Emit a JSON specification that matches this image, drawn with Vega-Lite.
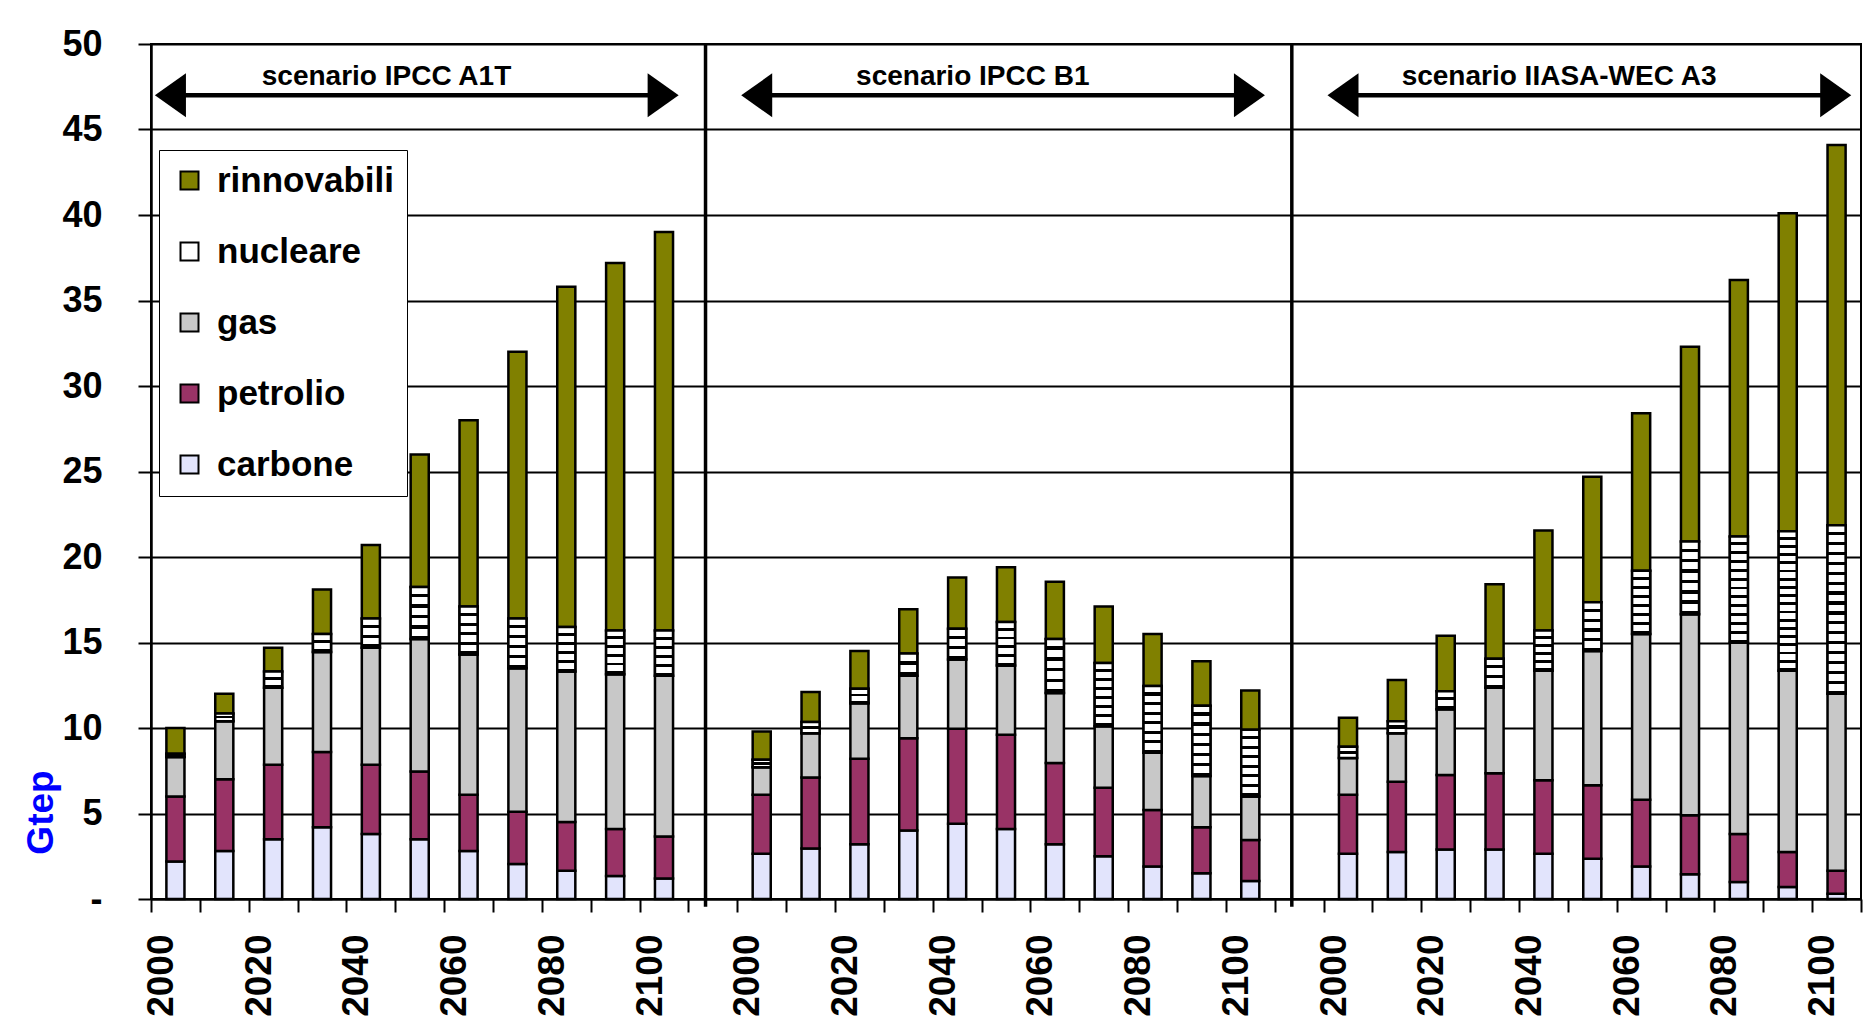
{
  "$schema": "https://vega.github.io/schema/vega-lite/v6.json",
  "width": 1710,
  "height": 855,
  "autosize": {"type": "none"},
  "padding": {"left": 151, "top": 44, "right": 2, "bottom": 130},
  "background": "#ffffff",
  "config": {
    "font": "Liberation Sans",
    "view": {"stroke": "#000000", "strokeWidth": 2},
    "axis": {"labelFont": "Liberation Sans", "titleFont": "Liberation Sans"},
    "legend": {"labelFont": "Liberation Sans"}
  },
  "layer": [
    {
      "data": {
        "values": [
          {"bar": "A1T 2000", "carbone": 2.2, "petrolio": 3.8, "gas": 2.3, "nucleare": 0.2, "rinnovabili": 1.5},
          {"bar": "A1T 2010", "carbone": 2.8, "petrolio": 4.2, "gas": 3.4, "nucleare": 0.45, "rinnovabili": 1.15},
          {"bar": "A1T 2020", "carbone": 3.5, "petrolio": 4.35, "gas": 4.5, "nucleare": 0.95, "rinnovabili": 1.4},
          {"bar": "A1T 2030", "carbone": 4.2, "petrolio": 4.4, "gas": 5.85, "nucleare": 1.05, "rinnovabili": 2.6},
          {"bar": "A1T 2040", "carbone": 3.8, "petrolio": 4.05, "gas": 6.85, "nucleare": 1.7, "rinnovabili": 4.3},
          {"bar": "A1T 2050", "carbone": 3.5, "petrolio": 3.95, "gas": 7.75, "nucleare": 3.05, "rinnovabili": 7.75},
          {"bar": "A1T 2060", "carbone": 2.8, "petrolio": 3.3, "gas": 8.2, "nucleare": 2.8, "rinnovabili": 10.9},
          {"bar": "A1T 2070", "carbone": 2.05, "petrolio": 3.05, "gas": 8.4, "nucleare": 2.9, "rinnovabili": 15.6},
          {"bar": "A1T 2080", "carbone": 1.65, "petrolio": 2.85, "gas": 8.8, "nucleare": 2.6, "rinnovabili": 19.9},
          {"bar": "A1T 2090", "carbone": 1.35, "petrolio": 2.75, "gas": 9.05, "nucleare": 2.55, "rinnovabili": 21.5},
          {"bar": "A1T 2100", "carbone": 1.2, "petrolio": 2.45, "gas": 9.4, "nucleare": 2.65, "rinnovabili": 23.3},
          {"bar": "B1 2000", "carbone": 2.65, "petrolio": 3.45, "gas": 1.6, "nucleare": 0.45, "rinnovabili": 1.65},
          {"bar": "B1 2010", "carbone": 2.95, "petrolio": 4.15, "gas": 2.6, "nucleare": 0.65, "rinnovabili": 1.75},
          {"bar": "B1 2020", "carbone": 3.2, "petrolio": 5.0, "gas": 3.25, "nucleare": 0.85, "rinnovabili": 2.2},
          {"bar": "B1 2030", "carbone": 4.0, "petrolio": 5.4, "gas": 3.65, "nucleare": 1.3, "rinnovabili": 2.6},
          {"bar": "B1 2040", "carbone": 4.4, "petrolio": 5.55, "gas": 4.05, "nucleare": 1.8, "rinnovabili": 3.0},
          {"bar": "B1 2050", "carbone": 4.1, "petrolio": 5.5, "gas": 4.05, "nucleare": 2.55, "rinnovabili": 3.2},
          {"bar": "B1 2060", "carbone": 3.2, "petrolio": 4.75, "gas": 4.1, "nucleare": 3.15, "rinnovabili": 3.35},
          {"bar": "B1 2070", "carbone": 2.5, "petrolio": 4.0, "gas": 3.6, "nucleare": 3.7, "rinnovabili": 3.3},
          {"bar": "B1 2080", "carbone": 1.9, "petrolio": 3.3, "gas": 3.35, "nucleare": 3.9, "rinnovabili": 3.05},
          {"bar": "B1 2090", "carbone": 1.5, "petrolio": 2.7, "gas": 3.0, "nucleare": 4.1, "rinnovabili": 2.6},
          {"bar": "B1 2100", "carbone": 1.05, "petrolio": 2.4, "gas": 2.55, "nucleare": 3.9, "rinnovabili": 2.3},
          {"bar": "A3 2000", "carbone": 2.65, "petrolio": 3.45, "gas": 2.15, "nucleare": 0.65, "rinnovabili": 1.7},
          {"bar": "A3 2010", "carbone": 2.75, "petrolio": 4.1, "gas": 2.85, "nucleare": 0.7, "rinnovabili": 2.4},
          {"bar": "A3 2020", "carbone": 2.9, "petrolio": 4.35, "gas": 3.85, "nucleare": 1.05, "rinnovabili": 3.25},
          {"bar": "A3 2030", "carbone": 2.9, "petrolio": 4.45, "gas": 5.0, "nucleare": 1.7, "rinnovabili": 4.35},
          {"bar": "A3 2040", "carbone": 2.65, "petrolio": 4.3, "gas": 6.4, "nucleare": 2.35, "rinnovabili": 5.85},
          {"bar": "A3 2050", "carbone": 2.35, "petrolio": 4.3, "gas": 7.85, "nucleare": 2.85, "rinnovabili": 7.35},
          {"bar": "A3 2060", "carbone": 1.9, "petrolio": 3.9, "gas": 9.7, "nucleare": 3.7, "rinnovabili": 9.2},
          {"bar": "A3 2070", "carbone": 1.45, "petrolio": 3.45, "gas": 11.75, "nucleare": 4.25, "rinnovabili": 11.4},
          {"bar": "A3 2080", "carbone": 1.0, "petrolio": 2.8, "gas": 11.2, "nucleare": 6.2, "rinnovabili": 15.0},
          {"bar": "A3 2090", "carbone": 0.7, "petrolio": 2.05, "gas": 10.6, "nucleare": 8.15, "rinnovabili": 18.6},
          {"bar": "A3 2100", "carbone": 0.3, "petrolio": 1.35, "gas": 10.35, "nucleare": 9.85, "rinnovabili": 22.25}
        ]
      },
      "transform": [
        {"fold": ["carbone", "petrolio", "gas", "nucleare", "rinnovabili"], "as": ["type", "v"]},
        {"stack": "v", "groupby": ["bar"], "as": ["y0", "y1"]}
      ],
      "layer": [
        {
          "mark": {"type": "bar", "width": {"band": 0.37}, "stroke": "#000000", "strokeWidth": 2.5},
          "encoding": {
            "x": {
              "field": "bar", "type": "nominal",
              "scale": {"type": "band", "paddingInner": 0, "paddingOuter": 0,
                "domain": ["A1T 2000","A1T 2010","A1T 2020","A1T 2030","A1T 2040","A1T 2050","A1T 2060","A1T 2070","A1T 2080","A1T 2090","A1T 2100","gap1","B1 2000","B1 2010","B1 2020","B1 2030","B1 2040","B1 2050","B1 2060","B1 2070","B1 2080","B1 2090","B1 2100","gap2","A3 2000","A3 2010","A3 2020","A3 2030","A3 2040","A3 2050","A3 2060","A3 2070","A3 2080","A3 2090","A3 2100"]},
              "axis": {
                "title": null,
                "labelExpr": "test(regexp('(00|20|40|60|80)$'), datum.value) ? slice(datum.value, -4) : ''",
                "labelAngle": 270, "labelAlign": "right", "labelBaseline": "middle",
                "labelFontSize": 37, "labelFontWeight": "bold", "labelColor": "#000000",
                "labelPadding": 22, "labelOffset": -14, "labelOverlap": false,
                "tickBand": "extent", "tickSize": 13, "tickColor": "#000000", "tickWidth": 2,
                "domainColor": "#000000", "domainWidth": 2, "grid": false
              }
            },
            "y": {
              "field": "y0", "type": "quantitative",
              "scale": {"domain": [0, 50], "nice": false},
              "axis": {
                "title": "Gtep", "values": [0, 5, 10, 15, 20, 25, 30, 35, 40, 45, 50],
                "labelExpr": "datum.value == 0 ? '-' : datum.label",
                "labelFontSize": 36, "labelFontWeight": "bold", "labelColor": "#000000",
                "labelPadding": 36, "labelFlush": false, "labelOverlap": false,
                "grid": true, "gridColor": "#000000", "gridWidth": 2,
                "domainColor": "#000000", "domainWidth": 2.5,
                "tickColor": "#000000", "tickWidth": 2, "tickSize": 13,
                "titleColor": "#0000ff", "titleFontSize": 37, "titleFontWeight": "bold",
                "titleAngle": 270, "titleX": -110, "titleY": 768, "titleAlign": "center", "titleBaseline": "middle"
              }
            },
            "y2": {"field": "y1"},
            "color": {
              "field": "type", "type": "nominal",
              "scale": {"domain": ["rinnovabili", "nucleare", "gas", "petrolio", "carbone"],
                        "range": ["#808000", "#ffffff", "#c8c8c8", "#993366", "#e2e4fc"]},
              "legend": {
                "orient": "none", "legendX": 8, "legendY": 106, "title": null,
                "symbolType": "square", "symbolSize": 324, "symbolStrokeColor": "#000000", "symbolStrokeWidth": 2,
                "symbolOpacity": 1,
                "labelFontSize": 35, "labelFontWeight": "bold", "labelColor": "#000000", "labelOffset": 10,
                "labelLimit": 400, "rowPadding": 35, "padding": 13,
                "strokeColor": "#000000", "fillColor": "#ffffff"
              }
            }
          }
        },
        {
          "transform": [{"filter": "datum.type == 'nucleare' && datum.v < 0.8"}],
          "mark": {"type": "bar", "width": {"band": 0.37}, "stroke": "#000000", "strokeWidth": 2.5,
            "fill": {"gradient": "linear", "x1": 0, "y1": 0, "x2": 0, "y2": 1, "stops": [
              {"offset": 0, "color": "#ffffff"}, {"offset": 0.36, "color": "#ffffff"}, {"offset": 0.36, "color": "#000000"}, {"offset": 0.64, "color": "#000000"}, {"offset": 0.64, "color": "#ffffff"}, {"offset": 1, "color": "#ffffff"}]}},
          "encoding": {"x": {"field": "bar", "type": "nominal"}, "y": {"field": "y0", "type": "quantitative"}, "y2": {"field": "y1"}}
        },
        {
          "transform": [{"filter": "datum.type == 'nucleare' && datum.v >= 0.8 && datum.v < 1.5"}],
          "mark": {"type": "bar", "width": {"band": 0.37}, "stroke": "#000000", "strokeWidth": 2.5,
            "fill": {"gradient": "linear", "x1": 0, "y1": 0, "x2": 0, "y2": 1, "stops": [
              {"offset": 0, "color": "#ffffff"}, {"offset": 0.335, "color": "#ffffff"}, {"offset": 0.335, "color": "#000000"}, {"offset": 0.5, "color": "#000000"},
              {"offset": 0.5, "color": "#ffffff"}, {"offset": 0.835, "color": "#ffffff"}, {"offset": 0.835, "color": "#000000"}, {"offset": 1, "color": "#000000"}]}},
          "encoding": {"x": {"field": "bar", "type": "nominal"}, "y": {"field": "y0", "type": "quantitative"}, "y2": {"field": "y1"}}
        },
        {
          "transform": [{"filter": "datum.type == 'nucleare' && datum.v >= 1.5 && datum.v < 2.2"}],
          "mark": {"type": "bar", "width": {"band": 0.37}, "stroke": "#000000", "strokeWidth": 2.5,
            "fill": {"gradient": "linear", "x1": 0, "y1": 0, "x2": 0, "y2": 1, "stops": [
              {"offset": 0, "color": "#ffffff"}, {"offset": 0.223, "color": "#ffffff"}, {"offset": 0.223, "color": "#000000"}, {"offset": 0.333, "color": "#000000"},
              {"offset": 0.333, "color": "#ffffff"}, {"offset": 0.557, "color": "#ffffff"}, {"offset": 0.557, "color": "#000000"}, {"offset": 0.667, "color": "#000000"},
              {"offset": 0.667, "color": "#ffffff"}, {"offset": 0.89, "color": "#ffffff"}, {"offset": 0.89, "color": "#000000"}, {"offset": 1, "color": "#000000"}]}},
          "encoding": {"x": {"field": "bar", "type": "nominal"}, "y": {"field": "y0", "type": "quantitative"}, "y2": {"field": "y1"}}
        },
        {
          "transform": [{"filter": "datum.type == 'nucleare' && datum.v >= 2.2 && datum.v < 3.3"}],
          "mark": {"type": "bar", "width": {"band": 0.37}, "stroke": "#000000", "strokeWidth": 2.5,
            "fill": {"gradient": "linear", "x1": 0, "y1": 0, "x2": 0, "y2": 1, "stops": [
              {"offset": 0, "color": "#ffffff"}, {"offset": 0.134, "color": "#ffffff"}, {"offset": 0.134, "color": "#000000"}, {"offset": 0.2, "color": "#000000"},
              {"offset": 0.2, "color": "#ffffff"}, {"offset": 0.334, "color": "#ffffff"}, {"offset": 0.334, "color": "#000000"}, {"offset": 0.4, "color": "#000000"},
              {"offset": 0.4, "color": "#ffffff"}, {"offset": 0.534, "color": "#ffffff"}, {"offset": 0.534, "color": "#000000"}, {"offset": 0.6, "color": "#000000"},
              {"offset": 0.6, "color": "#ffffff"}, {"offset": 0.734, "color": "#ffffff"}, {"offset": 0.734, "color": "#000000"}, {"offset": 0.8, "color": "#000000"},
              {"offset": 0.8, "color": "#ffffff"}, {"offset": 0.934, "color": "#ffffff"}, {"offset": 0.934, "color": "#000000"}, {"offset": 1, "color": "#000000"}]}},
          "encoding": {"x": {"field": "bar", "type": "nominal"}, "y": {"field": "y0", "type": "quantitative"}, "y2": {"field": "y1"}}
        },
        {
          "transform": [{"filter": "datum.type == 'nucleare' && datum.v >= 3.3 && datum.v < 4.5"}],
          "mark": {"type": "bar", "width": {"band": 0.37}, "stroke": "#000000", "strokeWidth": 2.5,
            "fill": {"gradient": "linear", "x1": 0, "y1": 0, "x2": 0, "y2": 1, "stops": [
              {"offset": 0, "color": "#ffffff"}, {"offset": 0.0957, "color": "#ffffff"}, {"offset": 0.0957, "color": "#000000"}, {"offset": 0.1429, "color": "#000000"},
              {"offset": 0.1429, "color": "#ffffff"}, {"offset": 0.2386, "color": "#ffffff"}, {"offset": 0.2386, "color": "#000000"}, {"offset": 0.2857, "color": "#000000"},
              {"offset": 0.2857, "color": "#ffffff"}, {"offset": 0.3814, "color": "#ffffff"}, {"offset": 0.3814, "color": "#000000"}, {"offset": 0.4286, "color": "#000000"},
              {"offset": 0.4286, "color": "#ffffff"}, {"offset": 0.5243, "color": "#ffffff"}, {"offset": 0.5243, "color": "#000000"}, {"offset": 0.5714, "color": "#000000"},
              {"offset": 0.5714, "color": "#ffffff"}, {"offset": 0.6671, "color": "#ffffff"}, {"offset": 0.6671, "color": "#000000"}, {"offset": 0.7143, "color": "#000000"},
              {"offset": 0.7143, "color": "#ffffff"}, {"offset": 0.81, "color": "#ffffff"}, {"offset": 0.81, "color": "#000000"}, {"offset": 0.8571, "color": "#000000"},
              {"offset": 0.8571, "color": "#ffffff"}, {"offset": 0.9529, "color": "#ffffff"}, {"offset": 0.9529, "color": "#000000"}, {"offset": 1, "color": "#000000"}]}},
          "encoding": {"x": {"field": "bar", "type": "nominal"}, "y": {"field": "y0", "type": "quantitative"}, "y2": {"field": "y1"}}
        },
        {
          "transform": [{"filter": "datum.type == 'nucleare' && datum.v >= 4.5 && datum.v < 7"}],
          "mark": {"type": "bar", "width": {"band": 0.37}, "stroke": "#000000", "strokeWidth": 2.5,
            "fill": {"gradient": "linear", "x1": 0, "y1": 0, "x2": 0, "y2": 1, "stops": [
              {"offset": 0, "color": "#ffffff"}, {"offset": 0.0558, "color": "#ffffff"}, {"offset": 0.0558, "color": "#000000"}, {"offset": 0.0833, "color": "#000000"},
              {"offset": 0.0833, "color": "#ffffff"}, {"offset": 0.1392, "color": "#ffffff"}, {"offset": 0.1392, "color": "#000000"}, {"offset": 0.1667, "color": "#000000"},
              {"offset": 0.1667, "color": "#ffffff"}, {"offset": 0.2225, "color": "#ffffff"}, {"offset": 0.2225, "color": "#000000"}, {"offset": 0.25, "color": "#000000"},
              {"offset": 0.25, "color": "#ffffff"}, {"offset": 0.3058, "color": "#ffffff"}, {"offset": 0.3058, "color": "#000000"}, {"offset": 0.3333, "color": "#000000"},
              {"offset": 0.3333, "color": "#ffffff"}, {"offset": 0.3892, "color": "#ffffff"}, {"offset": 0.3892, "color": "#000000"}, {"offset": 0.4167, "color": "#000000"},
              {"offset": 0.4167, "color": "#ffffff"}, {"offset": 0.4725, "color": "#ffffff"}, {"offset": 0.4725, "color": "#000000"}, {"offset": 0.5, "color": "#000000"},
              {"offset": 0.5, "color": "#ffffff"}, {"offset": 0.5558, "color": "#ffffff"}, {"offset": 0.5558, "color": "#000000"}, {"offset": 0.5833, "color": "#000000"},
              {"offset": 0.5833, "color": "#ffffff"}, {"offset": 0.6392, "color": "#ffffff"}, {"offset": 0.6392, "color": "#000000"}, {"offset": 0.6667, "color": "#000000"},
              {"offset": 0.6667, "color": "#ffffff"}, {"offset": 0.7225, "color": "#ffffff"}, {"offset": 0.7225, "color": "#000000"}, {"offset": 0.75, "color": "#000000"},
              {"offset": 0.75, "color": "#ffffff"}, {"offset": 0.8058, "color": "#ffffff"}, {"offset": 0.8058, "color": "#000000"}, {"offset": 0.8333, "color": "#000000"},
              {"offset": 0.8333, "color": "#ffffff"}, {"offset": 0.8892, "color": "#ffffff"}, {"offset": 0.8892, "color": "#000000"}, {"offset": 0.9167, "color": "#000000"},
              {"offset": 0.9167, "color": "#ffffff"}, {"offset": 0.9725, "color": "#ffffff"}, {"offset": 0.9725, "color": "#000000"}, {"offset": 1, "color": "#000000"}]}},
          "encoding": {"x": {"field": "bar", "type": "nominal"}, "y": {"field": "y0", "type": "quantitative"}, "y2": {"field": "y1"}}
        },
        {
          "transform": [{"filter": "datum.type == 'nucleare' && datum.v >= 7"}],
          "mark": {"type": "bar", "width": {"band": 0.37}, "stroke": "#000000", "strokeWidth": 2.5,
            "fill": {"gradient": "linear", "x1": 0, "y1": 0, "x2": 0, "y2": 1, "stops": [
              {"offset": 0, "color": "#ffffff"}, {"offset": 0.0394, "color": "#ffffff"}, {"offset": 0.0394, "color": "#000000"}, {"offset": 0.0588, "color": "#000000"},
              {"offset": 0.0588, "color": "#ffffff"}, {"offset": 0.0982, "color": "#ffffff"}, {"offset": 0.0982, "color": "#000000"}, {"offset": 0.1176, "color": "#000000"},
              {"offset": 0.1176, "color": "#ffffff"}, {"offset": 0.157, "color": "#ffffff"}, {"offset": 0.157, "color": "#000000"}, {"offset": 0.1765, "color": "#000000"},
              {"offset": 0.1765, "color": "#ffffff"}, {"offset": 0.2159, "color": "#ffffff"}, {"offset": 0.2159, "color": "#000000"}, {"offset": 0.2353, "color": "#000000"},
              {"offset": 0.2353, "color": "#ffffff"}, {"offset": 0.2747, "color": "#ffffff"}, {"offset": 0.2747, "color": "#000000"}, {"offset": 0.2941, "color": "#000000"},
              {"offset": 0.2941, "color": "#ffffff"}, {"offset": 0.3335, "color": "#ffffff"}, {"offset": 0.3335, "color": "#000000"}, {"offset": 0.3529, "color": "#000000"},
              {"offset": 0.3529, "color": "#ffffff"}, {"offset": 0.3923, "color": "#ffffff"}, {"offset": 0.3923, "color": "#000000"}, {"offset": 0.4118, "color": "#000000"},
              {"offset": 0.4118, "color": "#ffffff"}, {"offset": 0.4512, "color": "#ffffff"}, {"offset": 0.4512, "color": "#000000"}, {"offset": 0.4706, "color": "#000000"},
              {"offset": 0.4706, "color": "#ffffff"}, {"offset": 0.51, "color": "#ffffff"}, {"offset": 0.51, "color": "#000000"}, {"offset": 0.5294, "color": "#000000"},
              {"offset": 0.5294, "color": "#ffffff"}, {"offset": 0.5688, "color": "#ffffff"}, {"offset": 0.5688, "color": "#000000"}, {"offset": 0.5882, "color": "#000000"},
              {"offset": 0.5882, "color": "#ffffff"}, {"offset": 0.6276, "color": "#ffffff"}, {"offset": 0.6276, "color": "#000000"}, {"offset": 0.6471, "color": "#000000"},
              {"offset": 0.6471, "color": "#ffffff"}, {"offset": 0.6865, "color": "#ffffff"}, {"offset": 0.6865, "color": "#000000"}, {"offset": 0.7059, "color": "#000000"},
              {"offset": 0.7059, "color": "#ffffff"}, {"offset": 0.7453, "color": "#ffffff"}, {"offset": 0.7453, "color": "#000000"}, {"offset": 0.7647, "color": "#000000"},
              {"offset": 0.7647, "color": "#ffffff"}, {"offset": 0.8041, "color": "#ffffff"}, {"offset": 0.8041, "color": "#000000"}, {"offset": 0.8235, "color": "#000000"},
              {"offset": 0.8235, "color": "#ffffff"}, {"offset": 0.8629, "color": "#ffffff"}, {"offset": 0.8629, "color": "#000000"}, {"offset": 0.8824, "color": "#000000"},
              {"offset": 0.8824, "color": "#ffffff"}, {"offset": 0.9218, "color": "#ffffff"}, {"offset": 0.9218, "color": "#000000"}, {"offset": 0.9412, "color": "#000000"},
              {"offset": 0.9412, "color": "#ffffff"}, {"offset": 0.9806, "color": "#ffffff"}, {"offset": 0.9806, "color": "#000000"}, {"offset": 1, "color": "#000000"}]}},
          "encoding": {"x": {"field": "bar", "type": "nominal"}, "y": {"field": "y0", "type": "quantitative"}, "y2": {"field": "y1"}}
        }
      ]
    },
    {
      "data": {"values": [{"at": "gap1"}, {"at": "gap2"}]},
      "mark": {"type": "rule", "color": "#000000", "strokeWidth": 3.5},
      "encoding": {
        "x": {"field": "at", "type": "nominal", "bandPosition": 0.35},
        "y": {"datum": -0.45, "type": "quantitative"},
        "y2": {"datum": 50}
      }
    },
    {
      "data": {"values": [
        {"from": "A1T 2000", "to": "A1T 2100", "mid": "A1T 2040", "label": "scenario IPCC A1T"},
        {"from": "B1 2000", "to": "B1 2100", "mid": "B1 2040", "label": "scenario IPCC B1"},
        {"from": "A3 2000", "to": "A3 2100", "mid": "A3 2040", "label": "scenario IIASA-WEC A3"}
      ]},
      "layer": [
        {
          "mark": {"type": "rule", "color": "#000000", "strokeWidth": 4.5},
          "encoding": {
            "x": {"field": "from", "type": "nominal", "bandPosition": 0.18},
            "x2": {"field": "to", "bandPosition": 0.7},
            "y": {"datum": 47.0, "type": "quantitative"}
          }
        },
        {
          "mark": {"type": "point", "shape": "M0,0L1.41,-1L1.41,1Z", "size": 1936, "filled": true, "color": "#000000", "opacity": 1, "strokeWidth": 0},
          "encoding": {
            "x": {"field": "from", "type": "nominal", "bandPosition": 0.08},
            "y": {"datum": 47.0, "type": "quantitative"}
          }
        },
        {
          "mark": {"type": "point", "shape": "M0,0L-1.41,-1L-1.41,1Z", "size": 1936, "filled": true, "color": "#000000", "opacity": 1, "strokeWidth": 0},
          "encoding": {
            "x": {"field": "to", "type": "nominal", "bandPosition": 0.8},
            "y": {"datum": 47.0, "type": "quantitative"}
          }
        },
        {
          "mark": {"type": "text", "fontSize": 28, "fontWeight": "bold", "font": "Liberation Sans", "align": "center", "baseline": "alphabetic", "color": "#000000"},
          "encoding": {
            "x": {"field": "mid", "type": "nominal", "bandPosition": 0.82},
            "y": {"datum": 47.6, "type": "quantitative"},
            "text": {"field": "label"}
          }
        }
      ]
    }
  ]
}
